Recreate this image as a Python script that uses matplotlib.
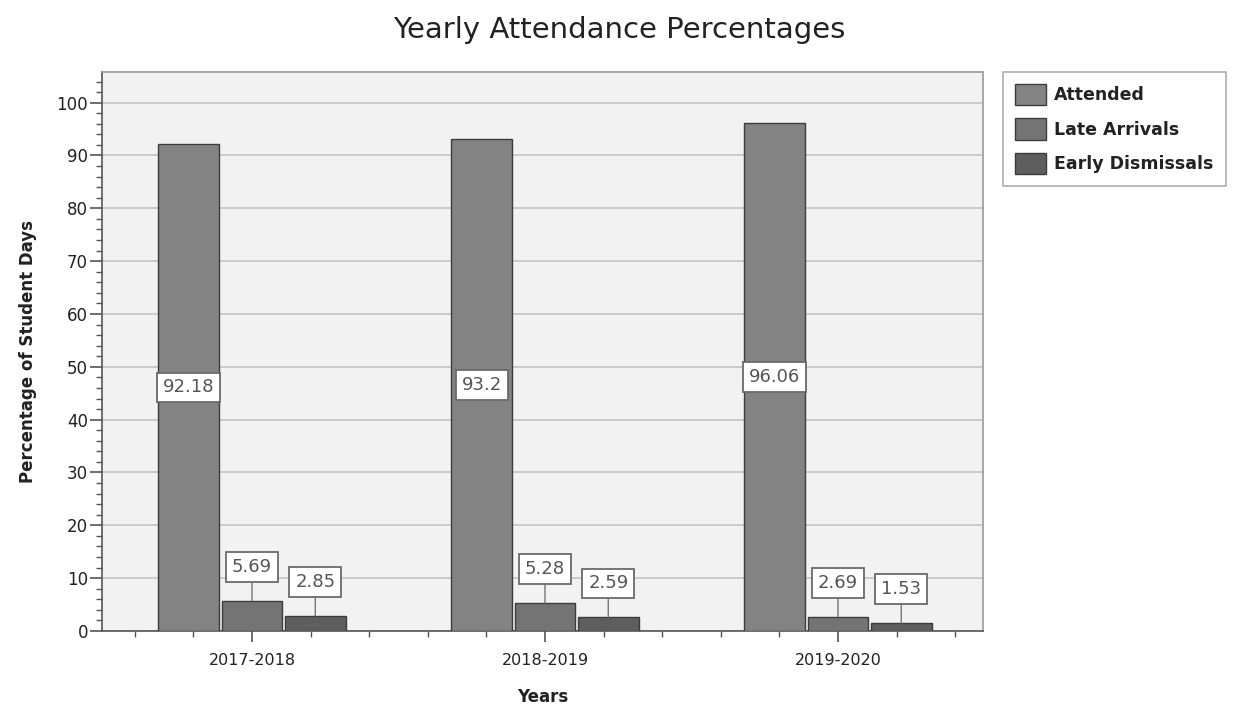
import matplotlib
matplotlib.use("Agg")
import matplotlib.pyplot as plt
from matplotlib.ticker import MultipleLocator
import numpy as np

years = ["2017-2018", "2018-2019", "2019-2020"]
series_names = ["Attended", "Late Arrivals", "Early Dismissals"]
attended = [92.18, 93.2, 96.06]
late_arrivals = [5.69, 5.28, 2.69]
early_dismissals = [2.85, 2.59, 1.53]
series_values = [attended, late_arrivals, early_dismissals]

colors = ["#838383", "#747474", "#5e5e5e"]
edge = "#3c3c3c"

plt.rcParams['font.family'] = ['DejaVu Sans']

fig = plt.figure(figsize=(12.34, 7.11), dpi=100)
ax = fig.add_axes([102/1234, 1-631/711, (983-102)/1234, (631-72)/711])
ax.set_facecolor("#f2f2f2")

x = np.arange(len(years))
step = 0.216
width = 0.207
handles = []
for i, (name, vals) in enumerate(zip(series_names, series_values)):
    pos = x + (i - 1) * step
    b = ax.bar(pos, vals, width, color=colors[i], edgecolor=edge, linewidth=1.0,
               label=name, zorder=3)
    handles.append(b)
    for xp, v in zip(pos, vals):
        txt = f"{v:g}"
        bbox = dict(boxstyle="square,pad=0.32", fc="white", ec="#6a6a6a", lw=1.3)
        if v > 20:
            ax.annotate(txt, (xp, v / 2), ha="center", va="center", fontsize=13,
                        color="#555555", bbox=bbox, zorder=5)
        else:
            ax.annotate(txt, (xp, v), xytext=(0, 24.5), textcoords="offset points",
                        ha="center", va="center", fontsize=13, color="#555555",
                        bbox=bbox, zorder=5,
                        arrowprops=dict(arrowstyle="-", color="#777777", lw=1.0,
                                        shrinkA=0, shrinkB=0))

ax.set_xlim(-0.512, 2.495)
ax.set_ylim(0, 105.8)
ax.yaxis.set_major_locator(MultipleLocator(10))
ax.yaxis.set_minor_locator(MultipleLocator(2))
ax.set_xticks(x)
ax.set_xticklabels(years, fontsize=11.5, color="#222222")
ax.xaxis.set_minor_locator(MultipleLocator(0.2))
ax.tick_params(axis="y", which="major", length=9, width=1.2, color="#555555",
               labelsize=12, labelcolor="#222222", pad=1)
ax.tick_params(axis="y", which="minor", length=4, width=1.0, color="#555555")
ax.tick_params(axis="x", which="major", length=8, width=1.2, color="#555555", pad=8)
ax.tick_params(axis="x", which="minor", length=4, width=1.0, color="#555555")

ax.grid(axis="y", which="major", color="#c4c4c4", lw=1.2, zorder=0)
for side, sp in ax.spines.items():
    sp.set_color("#9a9a9a")
    sp.set_linewidth(1.2)
ax.spines["left"].set_color("#555555")
ax.spines["bottom"].set_color("#555555")

ax.set_ylabel("Percentage of Student Days", fontsize=12, fontweight="bold",
              color="#222222", labelpad=14)
ax.set_xlabel("Years", fontsize=12, fontweight="bold", color="#222222", labelpad=14)

fig.text(0.502, 1 - 30/711, "Yearly Attendance Percentages", ha="center", va="center",
         fontsize=21, color="#222222")

leg = fig.legend(handles=handles, labels=series_names, loc="upper left",
                 bbox_to_anchor=(1003/1234, 1 - 72/711),
                 prop=dict(size=12.5, weight="bold"),
                 frameon=True, fancybox=False, edgecolor="#9a9a9a",
                 handlelength=1.75, handleheight=1.5, handletextpad=0.5,
                 labelspacing=0.75, borderpad=0.7, borderaxespad=0)
leg.get_frame().set_linewidth(1.2)
for t in leg.get_texts():
    t.set_color("#222222")

fig.savefig("out.png", dpi=100, facecolor="white")
